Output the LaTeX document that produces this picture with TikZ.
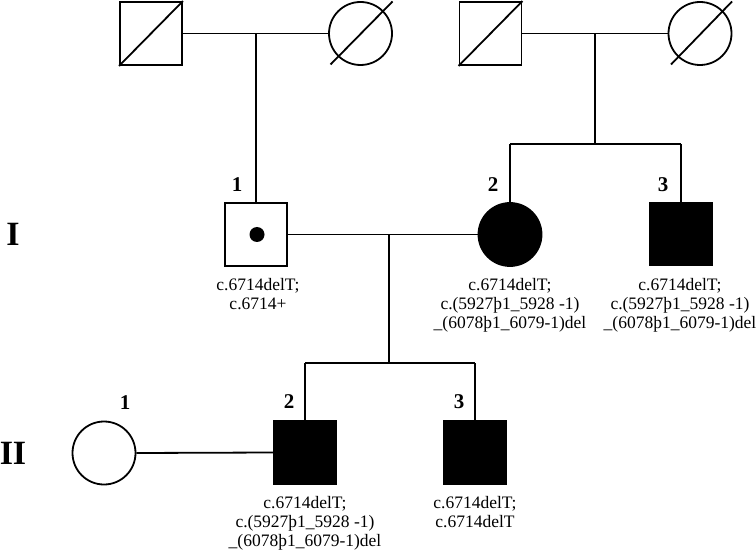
\documentclass[tikz,border=0pt]{standalone}
\usepackage{fontspec}
\setmainfont{Liberation Serif}
\usetikzlibrary{calc}
\tikzset{
  every path/.style={line width=1.8bp},
  male/.style={draw, line width=1.8bp, rectangle, minimum width=62bp, minimum height=63bp, inner sep=0pt},
  female/.style={draw, line width=1.8bp, circle, minimum size=63bp, inner sep=0pt},
  affected/.style={fill=black},
  gennum/.style={font=\bfseries\fontsize{21bp}{24bp}\selectfont, inner sep=0pt},
  genroman/.style={font=\bfseries\fontsize{34bp}{38bp}\selectfont, inner sep=0pt},
  mut/.style={font=\fontsize{17.5bp}{19.2bp}\selectfont, align=center, anchor=north, inner sep=0pt},
}
\begin{document}
\begin{tikzpicture}[x=1bp,y=-1bp]
\useasboundingbox (0,0) rectangle (756,550);

% top generation
\node[male] (A) at (151,33.5) {};
\node[female] (B) at (360.5,33.5) {};
\node[male] (C) at (490.5,33.5) {};
\node[female] (D) at (700,33.5) {};
\draw (A.south west) -- (A.north east);
\draw (C.south west) -- (C.north east);
\draw ($(B.center)+(-30,31)$) -- ($(B.center)+(32,-32)$);
\draw ($(D.center)+(-29,31)$) -- ($(D.center)+(32,-32)$);
\draw (A.east) -- (B.west);
\draw (C.east) -- (D.west);
\coordinate (m1) at (256,33.5);
\coordinate (m2) at (595,33.5);

% generation I
\node[male] (I1) at (256,234.5) {};
\fill (257,234.5) circle (7.5bp);
\node[female, affected] (I2) at (510,234.5) {};
\node[male, affected] (I3) at (681,234) {};
\draw (m1) -- (I1.north);
\coordinate (s2) at (595,144);
\coordinate (s2l) at (510,144);
\coordinate (s2r) at (681,144);
\draw (m2) -- (s2);
\draw (s2l) -- (s2r);
\draw (s2l) -- (I2.north);
\draw (s2r) -- (I3.north);
\draw (I1.east) -- (I2.west);
\coordinate (m3) at (389,234.5);
\coordinate (s3) at (389,363);
\coordinate (s3l) at (305,363);
\coordinate (s3r) at (475,363);
\draw (m3) -- (s3);
\draw (s3l) -- (s3r);

% generation II
\node[female] (II1) at (104,453) {};
\node[male, affected] (II2) at (305,452.5) {};
\node[male, affected] (II3) at (475,452.5) {};
\draw (s3l) -- (II2.north);
\draw (s3r) -- (II3.north);
\draw (II1.east) -- (II2.west);

% labels
\node[genroman] (gI) at (13,234) {I};
\node[genroman] (gII) at (13,453) {II};
\node[gennum] (nI1) at (237,185) {1};
\node[gennum] (nI2) at (493,185) {2};
\node[gennum] (nI3) at (663,185) {3};
\node[gennum] (nII1) at (125,403) {1};
\node[gennum] (nII2) at (289,402) {2};
\node[gennum] (nII3) at (459,402) {3};

\node[mut] (tI1) at (258,277) {c.6714delT;\\c.6714+};
\node[mut] (tI2) at (510,277) {c.6714delT;\\c.(5927þ1\_5928 -1)\\\_(6078þ1\_6079-1)del};
\node[mut] (tI3) at (680,277) {c.6714delT;\\c.(5927þ1\_5928 -1)\\\_(6078þ1\_6079-1)del};
\node[mut] (tII2) at (305,495) {c.6714delT;\\c.(5927þ1\_5928 -1)\\\_(6078þ1\_6079-1)del};
\node[mut] (tII3) at (475,495) {c.6714delT;\\c.6714delT};
\end{tikzpicture}
\end{document}
